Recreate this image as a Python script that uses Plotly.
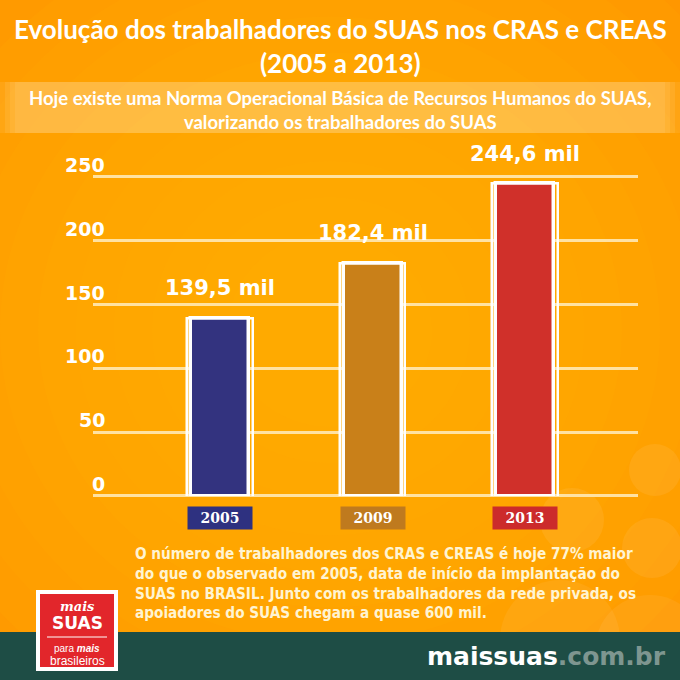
import plotly.graph_objects as go

# data
years = ["2005", "2009", "2013"]
workers = [139.5, 182.4, 244.6]  # mil trabalhadores
bar_colors = ["#33337F", "#C98019", "#D0302A"]
box_colors = ["#2E3180", "#BF7A1E", "#CC2B2B"]
y_ticks = [0, 50, 100, 150, 200, 250]

title = "Evolução dos trabalhadores do SUAS nos CRAS e CREAS<br>(2005 a 2013)"
subtitle = ("Hoje existe uma Norma Operacional Básica de Recursos Humanos do SUAS,<br>"
            "valorizando os trabalhadores do SUAS")
paragraph = [
    "O número de trabalhadores dos CRAS e CREAS é hoje 77% maior",
    "do que o observado em 2005, data de início da implantação do",
    "SUAS no BRASIL. Junto com os trabalhadores da rede privada, os",
    "apoiadores do SUAS chegam a quase 600 mil.",
]

W = H = 680


def py(px):
    # pixel from top -> paper y
    return 1 - px / H


def px_x(px):
    return px / W


fig = go.Figure()

# filled bars
fig.add_trace(go.Bar(
    x=years, y=workers, width=0.38,
    marker=dict(color=bar_colors, line=dict(color="white", width=3.5)),
    hoverinfo="skip", showlegend=False,
))
# sketchy second outline
fig.add_trace(go.Bar(
    x=years, y=[v + 1.5 for v in workers], base=-1.5, width=0.43,
    marker=dict(color="rgba(0,0,0,0)", line=dict(color="white", width=2.5)),
    hoverinfo="skip", showlegend=False,
))

shapes = []
# background radial glow
for i in range(12):
    r = 520 - i * 38
    shapes.append(dict(type="circle", xref="paper", yref="paper", layer="below",
                       x0=px_x(330 - r), x1=px_x(330 + r),
                       y0=py(330 + r * 0.95), y1=py(330 - r * 0.95),
                       fillcolor="#FFB300", opacity=0.11, line_width=0))
# faint people silhouettes bottom right
for cx, cy, r in [(572, 520, 32), (652, 548, 30), (655, 470, 26)]:
    shapes.append(dict(type="circle", xref="paper", yref="paper", layer="below",
                       x0=px_x(cx - r), x1=px_x(cx + r), y0=py(cy + r), y1=py(cy - r),
                       fillcolor="white", opacity=0.07, line_width=0))
for cx, cy, r in [(560, 640, 60), (650, 650, 55)]:
    shapes.append(dict(type="circle", xref="paper", yref="paper", layer="below",
                       x0=px_x(cx - r), x1=px_x(cx + r), y0=py(cy + r), y1=py(cy - r),
                       fillcolor="white", opacity=0.06, line_width=0))
# subtitle band with faded edges
for inset in [0, 5, 10, 15]:
    shapes.append(dict(type="rect", xref="paper", yref="paper", layer="below",
                       x0=px_x(inset), x1=px_x(W - inset), y0=py(133), y1=py(82),
                       fillcolor="#FFF0D8", opacity=0.09, line_width=0))
# footer
shapes.append(dict(type="rect", xref="paper", yref="paper",
                   x0=0, x1=1, y0=0, y1=py(632),
                   fillcolor="#1E4D45", line_width=0))
# logo
shapes.append(dict(type="rect", xref="paper", yref="paper",
                   x0=px_x(36), x1=px_x(118), y0=py(671), y1=py(590),
                   fillcolor="white", line_width=0))
shapes.append(dict(type="rect", xref="paper", yref="paper",
                   x0=px_x(40), x1=px_x(114), y0=py(667), y1=py(594),
                   fillcolor="#E2262B", line_width=0))
shapes.append(dict(type="line", xref="paper", yref="paper",
                   x0=px_x(47), x1=px_x(107), y0=py(637), y1=py(637),
                   line=dict(color="white", width=1)))


def note(text, x, y, size, xanchor="center", family="Lato", color="white",
         weight=700, xref="paper", yref="paper", **kw):
    return dict(text=text, x=x, y=y, xref=xref, yref=yref, xanchor=xanchor,
                yanchor="middle", showarrow=False,
                font=dict(family=family, size=size, color=color, weight=weight), **kw)


ann = []
ann.append(note(title, 0.5, py(46), 26))
ann.append(note(subtitle, 0.5, py(110), 18.5))

# y tick labels above gridlines
for t in y_ticks:
    ann.append(note(str(t), px_x(107), t, 19, xanchor="right", family="DejaVu Sans",
                    yref="y", yshift=12))

# value labels and year boxes
for i, (v, yr, bc) in enumerate(zip(workers, years, box_colors)):
    ann.append(note(f"{v:.1f}".replace(".", ",") + " mil", i, v, 21,
                    family="DejaVu Sans", xref="x", yref="y", yshift=30))
    ann.append(note(yr, i, py(518), 14, family="DejaVu Serif", xref="x",
                    bgcolor=bc, width=62, height=20))

ann.append(note("<br>".join(paragraph), px_x(133), py(583), 15.2, xanchor="left",
                family="DejaVu Sans Condensed", color="#FFF4D2", align="left"))

# logo text
ann += [
    note("<i>mais</i>", px_x(77), py(606), 13, family="DejaVu Serif"),
    note("SUAS", px_x(77), py(623), 17, family="DejaVu Sans"),
    note("para <i><b>mais</b></i>", px_x(77), py(648), 10, family="Liberation Sans",
         weight=400),
    note("brasileiros", px_x(77), py(661), 12, family="Liberation Sans", weight=400),
]
# footer site
ann.append(note("<b>maissuas</b><span style='color:#7E9690'><b>.com.br</b></span>",
                px_x(668), py(656), 25, xanchor="right", family="DejaVu Sans",
                weight=400))

fig.update_layout(
    width=W, height=H, autosize=False,
    margin=dict(l=0, r=0, t=0, b=0),
    paper_bgcolor="#FF9400", plot_bgcolor="rgba(0,0,0,0)",
    barmode="overlay", bargap=0,
    shapes=shapes, annotations=ann,
    xaxis=dict(type="category", domain=[px_x(93), px_x(638)], range=[-0.833, 2.74],
               showticklabels=False, showgrid=False, zeroline=False, fixedrange=True),
    yaxis=dict(domain=[py(496), py(496 - 252 * 1.276)], range=[0, 252],
               tickvals=y_ticks, showticklabels=False,
               showgrid=True, gridcolor="rgba(255,236,190,0.85)", gridwidth=3,
               zeroline=True, zerolinecolor="rgba(255,236,190,0.85)", zerolinewidth=3,
               fixedrange=True),
)

fig.write_html("out.html", config={"displayModeBar": False},
               post_script="document.body.style.margin='0';")
